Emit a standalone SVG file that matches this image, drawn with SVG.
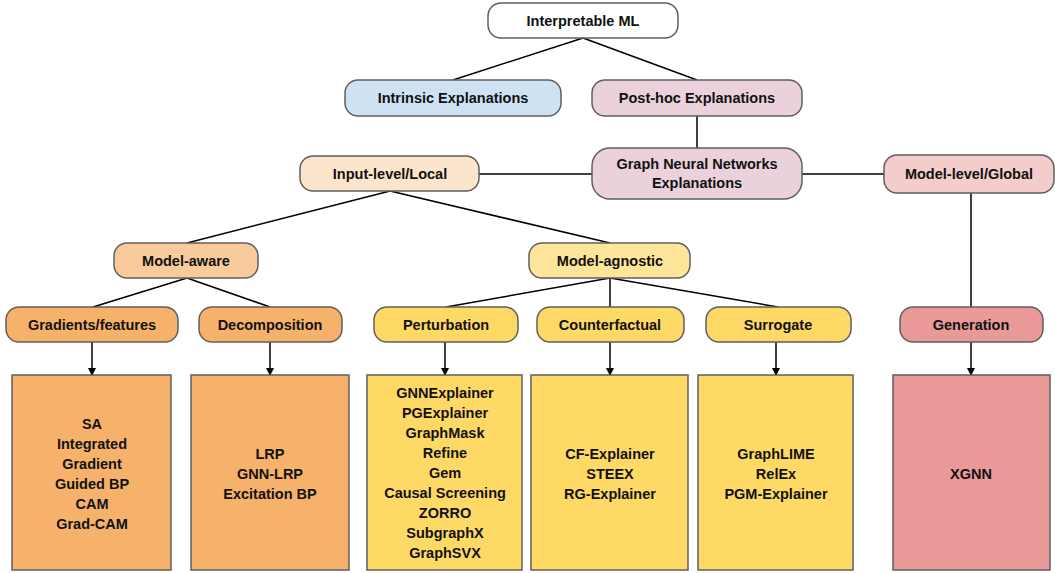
<svg xmlns="http://www.w3.org/2000/svg" width="1055" height="573" viewBox="0 0 1055 573">
<style>
.n{stroke:#5f5f5f;stroke-width:1.5}
.t{font-family:"Liberation Sans",Arial,sans-serif;font-weight:bold;font-size:14.5px;fill:#111;text-anchor:middle}
.c{stroke:#000;stroke-width:1.5;fill:none}
.white{fill:#fff}.blue{fill:#cfe2f3}.pink{fill:#ead1dc}.peach{fill:#fce5cd}.rose{fill:#f4cccc}
.lorange{fill:#f9cb9c}.lyellow{fill:#ffe599}.orange{fill:#f6b26b}.yellow{fill:#ffd966}.red{fill:#ea9999}
</style>
<defs>
<marker id="ah" markerWidth="8" markerHeight="8" refX="7" refY="4" orient="auto" markerUnits="userSpaceOnUse">
<path d="M0,0 L8,4 L0,8 z" fill="#000"/>
</marker>
</defs>
<g id="connectors">
<line class="c" x1="583" y1="38" x2="453" y2="80"/>
<line class="c" x1="583" y1="38" x2="697" y2="80"/>
<line class="c" x1="697" y1="116" x2="697" y2="148"/>
<line class="c" x1="479" y1="174" x2="592" y2="174"/>
<line class="c" x1="802" y1="174" x2="884" y2="174"/>
<line class="c" x1="390" y1="191" x2="187" y2="243"/>
<line class="c" x1="390" y1="191" x2="610" y2="243"/>
<line class="c" x1="971" y1="193" x2="971" y2="307"/>
<line class="c" x1="187" y1="278" x2="93" y2="307"/>
<line class="c" x1="187" y1="278" x2="270" y2="307"/>
<line class="c" x1="610" y1="278" x2="446" y2="307"/>
<line class="c" x1="610" y1="278" x2="610" y2="307"/>
<line class="c" x1="610" y1="278" x2="778" y2="307"/>
<line class="c" x1="92" y1="342" x2="92" y2="375" marker-end="url(#ah)"/>
<line class="c" x1="270" y1="342" x2="270" y2="375" marker-end="url(#ah)"/>
<line class="c" x1="445" y1="342" x2="445" y2="375" marker-end="url(#ah)"/>
<line class="c" x1="610" y1="342" x2="610" y2="375" marker-end="url(#ah)"/>
<line class="c" x1="776" y1="342" x2="776" y2="375" marker-end="url(#ah)"/>
<line class="c" x1="971" y1="342" x2="971" y2="375" marker-end="url(#ah)"/>
</g>
<g id="interpretable-ml"><rect class="n white" x="488" y="3" width="190" height="35" rx="13"/><text class="t" x="583" y="26">Interpretable ML</text></g>
<g id="intrinsic"><rect class="n blue" x="345" y="80" width="216" height="36" rx="13"/><text class="t" x="453" y="103">Intrinsic Explanations</text></g>
<g id="post-hoc"><rect class="n pink" x="592" y="80" width="210" height="36" rx="13"/><text class="t" x="697" y="103">Post-hoc Explanations</text></g>
<g id="gnn-explanations"><rect class="n pink" x="592" y="148" width="210" height="51" rx="18"/><text class="t" x="697" y="169">Graph Neural Networks</text><text class="t" x="697" y="188">Explanations</text></g>
<g id="input-level"><rect class="n peach" x="300" y="156" width="179" height="35" rx="13"/><text class="t" x="390" y="179">Input-level/Local</text></g>
<g id="model-level"><rect class="n rose" x="884" y="155" width="170" height="38" rx="13"/><text class="t" x="969" y="179">Model-level/Global</text></g>
<g id="model-aware"><rect class="n lorange" x="114" y="243" width="144" height="35" rx="13"/><text class="t" x="186" y="266">Model-aware</text></g>
<g id="model-agnostic"><rect class="n lyellow" x="529" y="243" width="161" height="35" rx="13"/><text class="t" x="610" y="266">Model-agnostic</text></g>
<g id="gradients"><rect class="n orange" x="6" y="307" width="172" height="35" rx="13"/><text class="t" x="92" y="330">Gradients/features</text></g>
<g id="decomposition"><rect class="n orange" x="199" y="307" width="143" height="35" rx="13"/><text class="t" x="270" y="330">Decomposition</text></g>
<g id="perturbation"><rect class="n yellow" x="374" y="307" width="144" height="35" rx="13"/><text class="t" x="446" y="330">Perturbation</text></g>
<g id="counterfactual"><rect class="n yellow" x="537" y="307" width="147" height="35" rx="13"/><text class="t" x="610" y="330">Counterfactual</text></g>
<g id="surrogate"><rect class="n yellow" x="706" y="307" width="145" height="35" rx="13"/><text class="t" x="778" y="330">Surrogate</text></g>
<g id="generation"><rect class="n red" x="900" y="307" width="143" height="35" rx="13"/><text class="t" x="971" y="330">Generation</text></g>
<g id="gradient-methods"><rect class="n orange" x="12" y="375" width="159" height="195"/>
<text class="t" x="92" y="429">SA</text><text class="t" x="92" y="449">Integrated</text><text class="t" x="92" y="469">Gradient</text><text class="t" x="92" y="489">Guided BP</text><text class="t" x="92" y="509">CAM</text><text class="t" x="92" y="529">Grad-CAM</text></g>
<g id="decomposition-methods"><rect class="n orange" x="191" y="375" width="158" height="195"/>
<text class="t" x="270" y="459">LRP</text><text class="t" x="270" y="479">GNN-LRP</text><text class="t" x="270" y="499">Excitation BP</text></g>
<g id="perturbation-methods"><rect class="n yellow" x="367" y="375" width="155" height="195"/>
<text class="t" x="445" y="398">GNNExplainer</text><text class="t" x="445" y="418">PGExplainer</text><text class="t" x="445" y="438">GraphMask</text><text class="t" x="445" y="458">Refine</text><text class="t" x="445" y="478">Gem</text><text class="t" x="445" y="498">Causal Screening</text><text class="t" x="445" y="518">ZORRO</text><text class="t" x="445" y="538">SubgraphX</text><text class="t" x="445" y="558">GraphSVX</text></g>
<g id="counterfactual-methods"><rect class="n yellow" x="531" y="375" width="157" height="195"/>
<text class="t" x="610" y="459">CF-Explainer</text><text class="t" x="610" y="479">STEEX</text><text class="t" x="610" y="499">RG-Explainer</text></g>
<g id="surrogate-methods"><rect class="n yellow" x="698" y="375" width="155" height="195"/>
<text class="t" x="776" y="459">GraphLIME</text><text class="t" x="776" y="479">RelEx</text><text class="t" x="776" y="499">PGM-Explainer</text></g>
<g id="generation-methods"><rect class="n red" x="893" y="375" width="157" height="195"/>
<text class="t" x="971" y="479">XGNN</text></g>
</svg>
